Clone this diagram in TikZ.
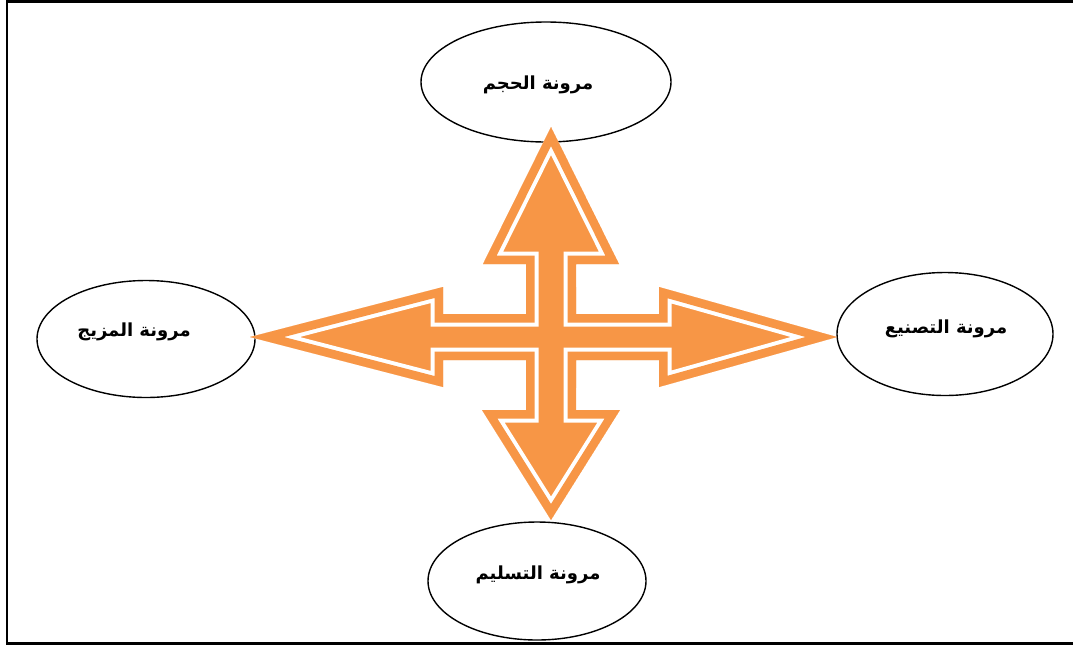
\documentclass[tikz,border=0pt]{standalone}
\usepackage{fontspec}
\newfontfamily\arabicfont[Script=Arabic]{DejaVu Sans}
\TeXXeTstate=1
\usetikzlibrary{shapes.geometric}
\definecolor{flexorange}{RGB}{247,150,70}

\begin{document}
\begin{tikzpicture}[x=1pt, y=-1pt,
    bub/.style={ellipse, draw=black, line width=1.4pt, fill=white, inner sep=0pt},
    lbl/.style={font=\arabicfont\bfseries\fontsize{18}{22}\selectfont},
    frame/.style={line width=2.5pt, line cap=rect}
  ]
    \useasboundingbox (0,0) rectangle (1073,646);
    \draw[frame] (1075,1.5) -- (7,1.5) -- (7,643.5) -- (1075,643.5);

    % the three bubbles behind the cross
    \node[bub, minimum width=250pt, minimum height=120pt] (vol) at (546,82) {};
    \node[lbl] at (538,85) {\beginR مرونة الحجم\endR};
    \node[bub, minimum width=218pt, minimum height=117pt] (mix) at (146,339) {};
    \node[lbl] at (134,332) {\beginR مرونة المزيج\endR};
    \node[bub, minimum width=216pt, minimum height=123pt] (mfg) at (945,334) {};
    \node[lbl] at (946,329) {\beginR مرونة التصنيع\endR};

    % four-way arrow
    \path[save path=\crossarrow]
      (551,127) -- (619,264) -- (576,264) -- (576,314) -- (659,314) -- (659,287)
      -- (837,337) -- (659,387) -- (659,360) -- (576,360) -- (576,410) -- (620,410)
      -- (551,520) -- (482,410) -- (526,410) -- (526,360) -- (443,360) -- (443,387)
      -- (250,337) -- (443,287) -- (443,314) -- (526,314) -- (526,264) -- (483,264)
      -- cycle;
    \begin{scope}
      \clip[use path=\crossarrow];
      \fill[flexorange, use path=\crossarrow];
      \draw[white, line width=25pt, line join=miter, use path=\crossarrow];
      \draw[flexorange, line width=17pt, line join=miter, use path=\crossarrow];
    \end{scope}

    \node[bub, minimum width=218pt, minimum height=118pt] (dlv) at (537,581) {};
    \node[lbl] at (538,575) {\beginR مرونة التسليم\endR};
  \end{tikzpicture}
\end{document}
